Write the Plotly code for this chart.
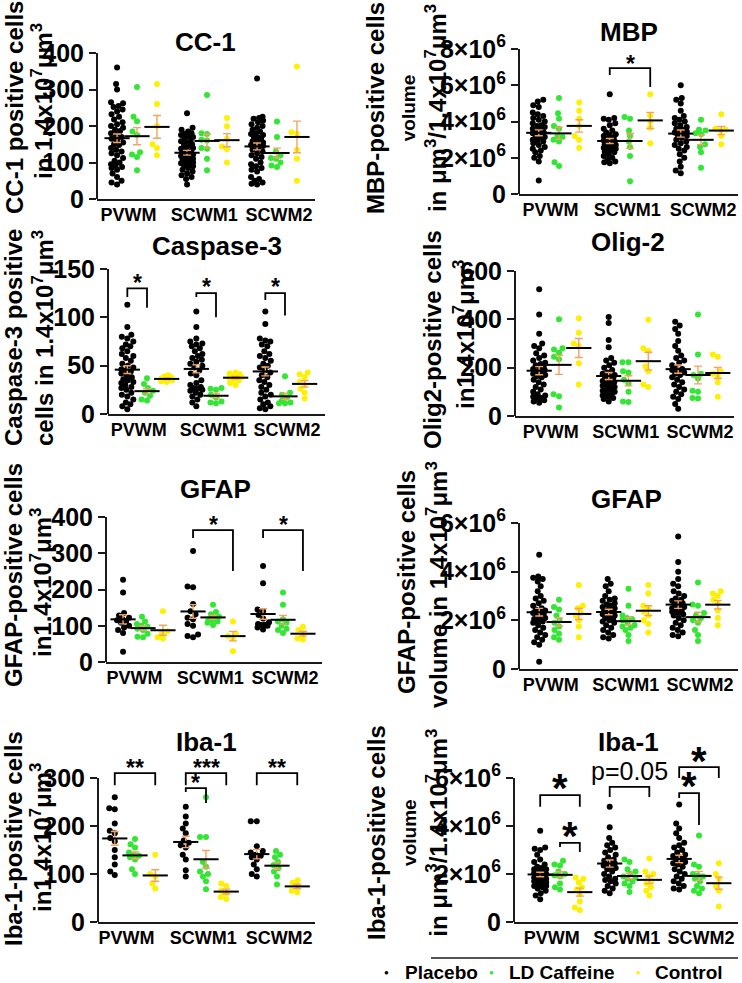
import numpy as np
import plotly.graph_objects as go

W, H = 742, 983
REGIONS = ["PVWM", "SCWM1", "SCWM2"]
GROUPS = ["Placebo", "LD Caffeine", "Control"]
COLORS = ["#000000", "#33E633", "#FFF000"]
ERR_COLOR = "#F4A261"
AXIS = "#1a1a1a"
FONT = "Arial, Liberation Sans, sans-serif"

# ---------------- data (per group: [PVWM, SCWM1, SCWM2]) ----------------
CC1_PLACEBO = [
    [360, 315, 300, 265, 262, 255, 252, 245, 240, 232, 225, 218, 210, 205, 200, 195, 190, 186, 180, 175, 170, 165,
     160, 155, 150, 148, 140, 135, 130, 125, 120, 112, 105, 100, 95, 92, 88, 85, 80, 70, 60, 50, 45, 40],
    [235, 195, 190, 185, 180, 178, 175, 172, 170, 165, 160, 158, 155, 150, 148, 145, 140, 138, 135, 130, 128, 125,
     122, 120, 118, 115, 112, 110, 108, 105, 102, 100, 98, 95, 92, 90, 85, 80, 75, 70, 65, 60, 55, 40],
    [330, 225, 222, 220, 215, 210, 205, 200, 195, 190, 185, 180, 178, 175, 170, 168, 165, 160, 158, 155, 152, 150,
     148, 145, 140, 135, 130, 125, 120, 115, 110, 100, 95, 90, 85, 80, 75, 60, 55, 50, 45, 42, 40],
]
CC1_CAFFEINE = [[307, 225, 213, 185, 175, 128, 122, 115, 79],
                [285, 180, 178, 162, 160, 140, 138, 110, 79],
                [212, 170, 130, 120, 112, 110, 100, 92, 88]]
CC1_CONTROL = [[315, 260, 200, 150, 140, 120],
               [222, 199, 165, 144, 137, 100],
               [363, 183, 179, 135, 110, 50]]

MBP_PLACEBO = [  # x10^6 um^3
    [5.2, 5.1, 4.9, 4.8, 4.5, 4.4, 4.3, 4.2, 4.1, 4.0, 3.9, 3.8, 3.75, 3.7, 3.6, 3.5, 3.45, 3.4, 3.35, 3.3, 3.2,
     3.15, 3.1, 3.0, 2.95, 2.9, 2.8, 2.7, 2.6, 2.5, 2.4, 2.3, 2.1, 2.0, 1.8, 0.75],
    [5.5, 4.2, 4.15, 4.1, 3.9, 3.8, 3.6, 3.5, 3.4, 3.3, 3.25, 3.2, 3.1, 3.05, 3.0, 2.95, 2.9, 2.85, 2.8, 2.75,
     2.7, 2.65, 2.6, 2.55, 2.5, 2.45, 2.4, 2.35, 2.3, 2.2, 2.1, 2.0, 1.9, 1.8, 1.75, 1.7],
    [6.0, 5.3, 5.2, 5.0, 4.6, 4.3, 4.2, 4.1, 4.0, 3.9, 3.8, 3.7, 3.6, 3.55, 3.5, 3.45, 3.4, 3.3, 3.25, 3.2, 3.1,
     3.0, 2.9, 2.8, 2.7, 2.6, 2.5, 2.4, 2.2, 2.0, 1.8, 1.5, 1.3, 1.15],
]
MBP_CAFFEINE = [[5.3, 4.45, 4.15, 3.75, 3.6, 3.2, 3.15, 3.0, 2.9, 1.75, 1.55],
                [4.25, 4.15, 3.5, 3.2, 2.9, 2.6, 2.1, 0.7],
                [4.1, 3.55, 3.5, 3.35, 3.3, 2.75, 2.6, 2.3, 1.45]]
MBP_CONTROL = [[5.05, 4.6, 4.15, 3.75, 3.2, 3.0, 2.55],
               [5.5, 4.35, 4.0, 3.65, 2.8],
               [4.4, 3.6, 3.55, 3.5, 3.2, 2.75]]

CASP_PLACEBO = [
    [113, 90, 82, 80, 78, 75, 72, 70, 68, 65, 62, 60, 58, 55, 52, 50, 48, 46, 45, 44, 42, 40, 38, 36, 35, 33, 32,
     30, 28, 27, 25, 22, 20, 18, 15, 12, 10, 8, 5],
    [106, 90, 78, 75, 73, 72, 70, 68, 65, 62, 60, 58, 56, 54, 52, 50, 48, 45, 42, 40, 35, 32, 30, 28, 27, 26, 25,
     24, 22, 20, 18, 15, 12, 8],
    [106, 93, 78, 76, 75, 72, 70, 65, 62, 60, 58, 55, 52, 50, 48, 45, 43, 40, 38, 35, 33, 30, 28, 25, 22, 20, 18,
     15, 12, 10, 8, 6, 5],
]
CASP_CAFFEINE = [[37, 31, 27, 24, 22, 19, 15, 14],
                 [27, 26, 25, 20, 17, 13, 12, 11],
                 [39, 22, 20, 17, 14, 12, 11, 11]]
CASP_CONTROL = [[40, 39, 38, 37, 36, 36, 35, 35, 34, 33],
                [43, 42, 41, 40, 39, 38, 37, 36, 35, 32, 30],
                [43, 41, 38, 33, 30, 26, 22, 16]]

OLIG_PLACEBO = [
    [525, 420, 340, 300, 290, 280, 260, 250, 240, 230, 220, 215, 210, 205, 200, 195, 190, 185, 180, 175, 170, 165,
     160, 150, 140, 130, 120, 110, 100, 90, 85, 80, 75, 70, 65, 60, 55],
    [410, 385, 315, 285, 240, 230, 220, 210, 200, 190, 180, 175, 170, 165, 160, 155, 150, 145, 140, 135, 130, 125,
     120, 115, 110, 105, 100, 95, 90, 85, 80, 75, 70, 60],
    [390, 375, 360, 340, 310, 290, 270, 250, 240, 230, 220, 210, 200, 195, 190, 185, 180, 175, 170, 160, 150, 140,
     130, 120, 110, 100, 90, 80, 70, 50, 30],
]
OLIG_CAFFEINE = [[400, 280, 275, 262, 245, 235, 90, 82, 35],
                 [222, 222, 185, 180, 150, 135, 100, 60, 58],
                 [420, 255, 175, 170, 155, 105, 100, 75, 72]]
OLIG_CONTROL = [[405, 345, 300, 290, 218, 130],
                [398, 280, 270, 205, 185, 130, 120],
                [255, 245, 185, 175, 165, 140, 80]]

GFAP_PLACEBO = [[227, 192, 135, 128, 122, 118, 115, 112, 108, 100, 95, 88, 80, 28],
                [306, 208, 206, 160, 140, 132, 122, 118, 105, 100, 76, 72, 68],
                [265, 217, 145, 140, 130, 120, 110, 105, 103, 102, 100, 95, 90]]
GFAP_CAFFEINE = [[125, 112, 105, 100, 97, 92, 88, 78, 70, 68],
                 [158, 138, 132, 125, 122, 118, 115, 112, 108, 102],
                 [192, 158, 118, 112, 108, 100, 92, 88, 80]]
GFAP_CONTROL = [[140, 85, 80, 68, 65],
                [112, 78, 72, 65, 30],
                [97, 88, 78, 65, 62]]

GFAPV_PLACEBO = [  # x10^6 um^3
    [4.7, 3.8, 3.75, 3.7, 3.6, 3.4, 3.2, 3.0, 2.9, 2.8, 2.7, 2.6, 2.5, 2.45, 2.4, 2.35, 2.3, 2.25, 2.2, 2.15, 2.1,
     2.05, 2.0, 1.95, 1.9, 1.8, 1.7, 1.6, 1.5, 1.4, 1.3, 1.2, 1.1, 1.0, 0.3],
    [3.7, 3.5, 3.4, 3.2, 3.0, 2.9, 2.85, 2.8, 2.7, 2.65, 2.6, 2.55, 2.5, 2.45, 2.4, 2.35, 2.3, 2.25, 2.2, 2.15,
     2.1, 2.05, 2.0, 1.95, 1.9, 1.8, 1.7, 1.6, 1.5, 1.4, 1.3, 1.25],
    [5.45, 4.4, 4.0, 3.7, 3.5, 3.4, 3.2, 3.1, 3.0, 2.9, 2.85, 2.8, 2.75, 2.7, 2.65, 2.6, 2.55, 2.5, 2.45, 2.4,
     2.35, 2.3, 2.25, 2.2, 2.1, 2.0, 1.9, 1.8, 1.7, 1.6, 1.5, 1.4, 1.35],
]
GFAPV_CAFFEINE = [[2.85, 2.55, 2.45, 2.2, 2.0, 1.9, 1.75, 1.6, 1.45, 1.3, 1.2],
                  [3.3, 2.6, 2.2, 2.1, 2.05, 2.0, 1.9, 1.8, 1.75, 1.7, 1.6, 1.4, 1.15],
                  [3.55, 2.65, 2.6, 2.3, 2.2, 2.1, 2.0, 1.9, 1.6, 1.4, 1.15]]
GFAPV_CONTROL = [[3.45, 2.6, 2.5, 2.3, 2.2, 2.0, 1.75, 1.3],
                 [3.45, 3.1, 2.6, 2.5, 2.35, 2.2, 2.0, 1.85, 1.5],
                 [3.2, 3.1, 3.0, 2.85, 2.7, 2.4, 2.1, 1.8]]

IBA_PLACEBO = [[260, 237, 235, 205, 190, 185, 175, 168, 150, 135, 120, 105, 98],
               [240, 220, 205, 195, 185, 170, 165, 160, 155, 140, 130, 108, 95],
               [210, 210, 158, 148, 145, 140, 138, 135, 130, 120, 110, 100, 95]]
IBA_CAFFEINE = [[173, 162, 155, 145, 140, 138, 135, 130, 110, 100],
                [260, 177, 177, 125, 115, 105, 100, 95, 85, 68],
                [148, 140, 135, 125, 118, 112, 105, 95, 78]]
IBA_CONTROL = [[140, 100, 95, 80, 70],
               [80, 75, 65, 60, 52, 48],
               [87, 82, 75, 65, 62]]

IBAV_PLACEBO = [  # x10^6 um^3
    [3.8, 3.1, 3.05, 3.0, 2.8, 2.6, 2.5, 2.4, 2.3, 2.25, 2.2, 2.2, 2.15, 2.1, 2.05, 2.0, 2.0, 1.95, 1.9, 1.9,
     1.85, 1.85, 1.8, 1.8, 1.75, 1.75, 1.7, 1.7, 1.65, 1.6, 1.6, 1.55, 1.5, 1.5, 1.45, 1.4, 1.3, 1.2, 1.1, 0.95],
    [4.8, 3.95, 3.5, 3.3, 3.2, 3.1, 3.0, 2.9, 2.8, 2.7, 2.6, 2.55, 2.5, 2.45, 2.4, 2.35, 2.3, 2.25, 2.2, 2.1,
     2.0, 1.9, 1.8, 1.75, 1.7, 1.6, 1.5, 1.4, 1.3, 1.2],
    [4.9, 4.1, 3.9, 3.7, 3.5, 3.3, 3.2, 3.1, 3.0, 2.9, 2.8, 2.75, 2.7, 2.65, 2.6, 2.55, 2.5, 2.45, 2.4, 2.3,
     2.2, 2.1, 2.0, 1.9, 1.8, 1.7, 1.6, 1.5, 1.4, 1.35],
]
IBAV_CAFFEINE = [[2.55, 2.4, 2.35, 2.1, 2.0, 1.95, 1.9, 1.6, 1.45, 1.35],
                 [2.6, 2.5, 2.2, 2.1, 2.0, 1.9, 1.85, 1.8, 1.7, 1.6, 1.5, 1.25],
                 [3.6, 2.4, 2.3, 2.0, 1.95, 1.9, 1.8, 1.7, 1.5, 1.4, 1.3, 1.2]]
IBAV_CONTROL = [[1.85, 1.8, 1.65, 1.45, 1.35, 1.15, 0.85, 0.6, 0.5],
                [2.65, 2.1, 2.0, 1.9, 1.7, 1.6, 1.45, 1.3, 1.1],
                [2.45, 2.0, 1.8, 1.5, 1.3, 0.65]]

SUP7 = "1.4x10<sup>7</sup>μm<sup>3</sup>"
SCI = 1e6
YT = 24   # y-title font size
VOL = "<span style='font-size:19px'>volume</span>"

# panel layout (pixel geometry of each axis box) and texts
PANELS = [
    dict(title="CC-1", tpos=(205, 42), series=(CC1_PLACEBO, CC1_CAFFEINE, CC1_CONTROL), mult=1,
         yticks=[0, 100, 200, 300, 400], sci=False,
         left=97, right=315, c0=137, ppx=70, y0=199, ytop=53, top=400, rtop=400,
         ytitle=[("CC-1 positive cells", 14, 108), ("in " + SUP7, 42, 101)]),
    dict(title="MBP", tpos=(629, 32), series=(MBP_PLACEBO, MBP_CAFFEINE, MBP_CONTROL), mult=SCI,
         yticks=[0, 2, 4, 6, 8], sci=True,
         left=519, right=738, c0=559, ppx=71, y0=194, ytop=49, top=8, rtop=8,
         ytitle=[("MBP-positive cells<br>" + VOL + "<br>in μm<sup>3</sup>/" + SUP7, 406, 108)]),
    dict(title="Caspase-3", tpos=(217, 246), series=(CASP_PLACEBO, CASP_CAFFEINE, CASP_CONTROL), mult=1,
         yticks=[0, 50, 100, 150], sci=False,
         left=108, right=325, c0=147, ppx=69, y0=414, ytop=269, top=150, rtop=150,
         ytitle=[("Caspase-3 positive", 13, 338), ("cells in " + SUP7, 43, 338)]),
    dict(title="Olig-2", tpos=(628, 242), series=(OLIG_PLACEBO, OLIG_CAFFEINE, OLIG_CONTROL), mult=1,
         yticks=[0, 200, 400, 600], sci=False,
         left=515, right=734, c0=559, ppx=69.5, y0=416, ytop=271, top=600, rtop=600,
         ytitle=[("Olig2-positive cells", 433, 340), ("in" + SUP7, 464, 335)]),
    dict(title="GFAP", tpos=(215, 489), series=(GFAP_PLACEBO, GFAP_CAFFEINE, GFAP_CONTROL), mult=1,
         yticks=[0, 100, 200, 300, 400], sci=False,
         left=106, right=322, c0=143, ppx=70, y0=662, ytop=517, top=400, rtop=400,
         ytitle=[("GFAP-positive cells", 13, 575), ("in" + SUP7, 41, 583)]),
    dict(title="GFAP", tpos=(626, 499), series=(GFAPV_PLACEBO, GFAPV_CAFFEINE, GFAPV_CONTROL), mult=SCI,
         yticks=[0, 2, 4, 6], sci=True,
         left=519, right=738, c0=559, ppx=69.5, y0=669, ytop=523, top=6, rtop=6,
         ytitle=[("GFAP-positive cells", 406, 582), ("volume in " + SUP7, 437, 585)]),
    dict(title="Iba-1", tpos=(207, 742), series=(IBA_PLACEBO, IBA_CAFFEINE, IBA_CONTROL), mult=1,
         yticks=[0, 100, 200, 300], sci=False,
         left=98, right=315, c0=135, ppx=71, y0=922, ytop=778, top=300, rtop=345,
         ytitle=[("Iba-1-positive cells", 13, 839), ("in" + SUP7, 41, 838)]),
    dict(title="Iba-1", tpos=(628, 742), series=(IBAV_PLACEBO, IBAV_CAFFEINE, IBAV_CONTROL), mult=SCI,
         yticks=[0, 2, 4, 6], sci=True,
         left=514, right=738, c0=560, ppx=69.5, y0=922, ytop=778, top=6, rtop=7.3,
         ytitle=[("Iba-1-positive cells<br>" + VOL + "<br>in μm<sup>3</sup>/" + SUP7, 407, 832)]),
]

# significance brackets: panel, (region, group) start, (region, group) end,
# top level, left end, right end, label, label level, font size, bold
BRACKETS = [
    (2, (1, 0), (1, 2), 6.95, 6.57, 5.9, "*", 7.45, 23, True),
    (3, (0, 0), (0, 1), 130, 121, 110, "*", 140.7, 23, True),
    (3, (1, 0), (1, 1), 125, 121, 100, "*", 136.5, 23, True),
    (3, (2, 0), (2, 1), 125, 118, 102, "*", 136.5, 23, True),
    (5, (1, 0), (1, 2), 364, 342, 251, "*", 392, 23, True),
    (5, (2, 0), (2, 2), 364, 342, 251, "*", 392, 23, True),
    (7, (0, 0), (0, 2), 310, 285, 285, "**", 331, 23, True),
    (7, (1, 0), (1, 2), 310, 285, 285, "***", 331, 23, True),
    (7, (1, 0), (1, 1), 279, 271, 248, "*", 300, 23, True),
    (7, (2, 0), (2, 2), 310, 285, 285, "**", 331, 23, True),
    (8, (0, 0), (0, 2), 5.29, 4.8, 4.8, "*", 5.92, 40, True),
    (8, (0, 1), (0, 2), 3.3, 3.13, 2.92, "*", 3.92, 40, True),
    (8, (1, 0), (1, 2), 5.63, 5.21, 5.21, "p=0.05", 6.29, 25, False),
    (8, (2, 0), (2, 2), 6.45, 6.0, 6.0, "*", 7.04, 40, True),
    (8, (2, 0), (2, 1), 5.37, 5.17, 4.04, "*", 6.0, 40, True),
]

GAP = 0.285          # spacing between groups within a region (x units)
XTICKS = [-0.12, 0.96, 2.03]
DOT = 6.0


def swarm(ypx, cap=6.0, d=DOT):
    """deterministic beeswarm offsets (px) for values already in px"""
    order = np.argsort(ypx, kind="stable")
    cands = np.linspace(-cap, cap, 25)
    cands = cands[np.argsort(np.abs(cands), kind="stable")]
    placed = []
    out = np.zeros(len(ypx))
    for i in order:
        y = ypx[i]
        best, bestd = 0.0, -1.0
        for c in cands:
            md = min((np.hypot(c - px, y - py) for px, py in placed), default=1e9)
            if md >= d * 0.92:
                best = c
                break
            if md > bestd:
                bestd, best = md, c
        out[i] = best
        placed.append((best, y))
    return out


def bold(size):
    return dict(family=FONT, size=size, color="#000", weight="bold")


fig = go.Figure()
layout = dict(width=W, height=H, margin=dict(l=0, r=0, t=0, b=0, pad=0, autoexpand=False),
              paper_bgcolor="white", plot_bgcolor="rgba(0,0,0,0)", showlegend=False)
shapes, annotations = [], []

for k, p in enumerate(PANELS, start=1):
    sfx = "" if k == 1 else str(k)
    xa, ya = "x" + sfx, "y" + sfx
    m = p["mult"]
    ppy = (p["y0"] - p["ytop"]) / (p["top"] * m)
    xr = [(p["left"] - p["c0"]) / p["ppx"], (p["right"] - p["c0"]) / p["ppx"]]
    ydom = [1 - p["y0"] / H, 1 - (p["y0"] - p["rtop"] * m * ppy) / H]
    xdom = [p["left"] / W, p["right"] / W]

    # points
    for g, series in enumerate(p["series"]):
        xs, ys = [], []
        for c, vals in enumerate(series):
            v = np.array(vals, dtype=float) * m
            off = swarm(v * ppy) / p["ppx"]
            xs.extend(c + (g - 1) * GAP + off)
            ys.extend(v)
        fig.add_trace(go.Scatter(x=xs, y=ys, mode="markers", xaxis=xa, yaxis=ya, name=GROUPS[g],
                                 marker=dict(size=DOT, color=COLORS[g], line=dict(width=0)),
                                 cliponaxis=False, hoverinfo="skip"))
    # mean +- SEM
    for g, series in enumerate(p["series"]):
        means, sems, xs = [], [], []
        for c, vals in enumerate(series):
            v = np.array(vals, dtype=float) * m
            means.append(v.mean())
            sems.append(v.std(ddof=1) / np.sqrt(len(v)))
            xs.append(c + (g - 1) * GAP)
        fig.add_trace(go.Scatter(x=xs, y=means, mode="markers", xaxis=xa, yaxis=ya, name=GROUPS[g] + " mean",
                                 marker=dict(symbol="line-ew", size=18, color="black",
                                             line=dict(width=2, color="black")),
                                 error_y=dict(type="data", array=sems, color=ERR_COLOR, thickness=1.4, width=4),
                                 cliponaxis=False, hoverinfo="skip"))

    if p["sci"]:
        ytext = ["0" if t == 0 else f"{t}×10<sup>6</sup>" for t in p["yticks"]]
    else:
        ytext = [str(t) for t in p["yticks"]]
    layout["xaxis" + sfx] = dict(domain=xdom, range=xr, anchor=ya, showline=True, linewidth=2, linecolor=AXIS,
                                 ticks="", tickvals=XTICKS, ticktext=REGIONS, tickfont=bold(18),
                                 ticklabelstandoff=-2, showgrid=False, zeroline=False, automargin=False)
    layout["yaxis" + sfx] = dict(domain=ydom, range=[0, p["rtop"] * m], anchor=xa, showline=False,
                                 ticks="outside", ticklen=7, tickwidth=2, tickcolor=AXIS,
                                 tickvals=[t * m for t in p["yticks"]], ticktext=ytext, tickfont=bold(25),
                                 showgrid=False, zeroline=False, automargin=False)
    shapes.append(dict(type="line", xref=xa + " domain", yref=ya, x0=0, x1=0, y0=0, y1=p["top"] * m,
                       line=dict(color=AXIS, width=2)))

    # panel title
    annotations.append(dict(text=p["title"], x=p["tpos"][0] / W, y=1 - p["tpos"][1] / H, xref="paper",
                            yref="paper", showarrow=False, xanchor="center", yanchor="middle", font=bold(26)))
    # y-axis title (rotated text)
    for txt, px, py in p["ytitle"]:
        annotations.append(dict(text=txt, x=px / W, y=1 - py / H, xref="paper", yref="paper", showarrow=False,
                                textangle=-90, xanchor="center", yanchor="middle", align="center",
                                font=bold(YT)))

# brackets
for (k, a, b, top, le, re, lab, ly, fs, isbold) in BRACKETS:
    p = PANELS[k - 1]
    m = p["mult"]
    sfx = "" if k == 1 else str(k)
    x1 = a[0] + (a[1] - 1) * GAP
    x2 = b[0] + (b[1] - 1) * GAP
    shapes.append(dict(type="path", xref="x" + sfx, yref="y" + sfx,
                       path=f"M {x1},{le * m} L {x1},{top * m} L {x2},{top * m} L {x2},{re * m}",
                       line=dict(color="black", width=1.8)))
    f = bold(fs) if isbold else dict(family=FONT, size=fs, color="#000")
    annotations.append(dict(text=lab, x=(x1 + x2) / 2, y=ly * m, xref="x" + sfx, yref="y" + sfx,
                            showarrow=False, xanchor="center", yanchor="middle",
                            yshift=-0.21 * fs if isbold else 0, font=f))

# legend (bottom right)
shapes.append(dict(type="line", xref="paper", yref="paper", x0=431 / W, x1=738 / W, y0=1 - 958 / H,
                   y1=1 - 958 / H, line=dict(color=AXIS, width=1.6)))
LEG_DOT_X = [386, 491, 638]
LEG_TXT_X = [403, 507, 653]
for g in range(3):
    annotations.append(dict(text="●", x=LEG_DOT_X[g] / W, y=1 - 972 / H, xref="paper", yref="paper",
                            showarrow=False, xanchor="center", yanchor="middle",
                            font=dict(family=FONT, size=8, color=COLORS[g])))
    annotations.append(dict(text=GROUPS[g], x=LEG_TXT_X[g] / W, y=1 - 972 / H, xref="paper", yref="paper",
                            showarrow=False, xanchor="left", yanchor="middle", font=bold(19)))

layout["shapes"] = shapes
layout["annotations"] = annotations
fig.update_layout(**layout)
fig.write_html("out.html", config={"displayModeBar": False},
               post_script="document.body.style.margin='0';document.body.style.padding='0';")
